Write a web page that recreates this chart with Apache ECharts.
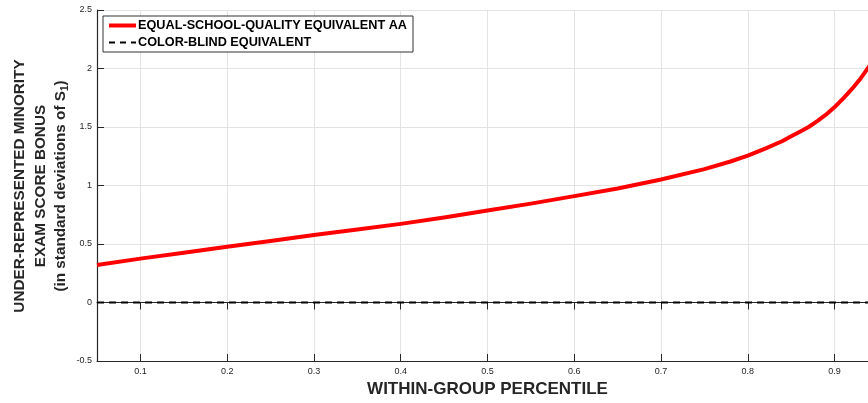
<!DOCTYPE html>
<html>
<head>
<meta charset="utf-8">
<script src="https://cdn.jsdelivr.net/npm/echarts@6/dist/echarts.min.js"></script>
<style>
  html, body { margin: 0; padding: 0; background: #fff; }
  #chart { width: 868px; height: 403px; }
</style>
</head>
<body>
<div id="chart"></div>
<script>
// Within-group percentile (x) and the exam score bonus (y, in SD of S1)
var percentile = [0.05, 0.1, 0.15, 0.2, 0.25, 0.3, 0.35, 0.4, 0.45, 0.5, 0.55, 0.6, 0.65, 0.7,
                  0.75, 0.78, 0.8, 0.82, 0.84, 0.85, 0.86, 0.87, 0.88, 0.89, 0.9, 0.91, 0.92, 0.93, 0.94, 0.95];
var equalSchoolAA = [0.32, 0.375, 0.425, 0.476, 0.526, 0.577, 0.624, 0.672, 0.727, 0.786, 0.845, 0.909, 0.975, 1.051,
                     1.14, 1.205, 1.255, 1.315, 1.38, 1.42, 1.46, 1.5, 1.55, 1.605, 1.67, 1.745, 1.825, 1.915, 2.02, 2.17];
var colorBlindX = [0.05, 0.95];
var colorBlind = [0, 0];

var xTicks = [0.1, 0.2, 0.3, 0.4, 0.5, 0.6, 0.7, 0.8, 0.9];
var seriesNames = ['EQUAL-SCHOOL-QUALITY EQUIVALENT AA', 'COLOR-BLIND EQUIVALENT'];

var axisColor = '#262626';
var gridColor = '#e3e3e3';
var font = 'Liberation Sans, Arial, Helvetica, sans-serif';

function pairs(xs, ys) {
  return xs.map(function (x, i) { return [x, ys[i]]; });
}

var chart = echarts.init(document.getElementById('chart'));
chart.setOption({
  animation: false,
  backgroundColor: '#fff',
  grid: { left: 97, top: 10, bottom: 42, right: -10, containLabel: false, outerBoundsMode: 'none' },
  legend: {
    orient: 'vertical',
    left: 103, top: 16,
    padding: [3, 6, 3, 4],
    itemGap: 4,
    itemWidth: 27, itemHeight: 14,
    backgroundColor: '#fff',
    borderColor: '#333',
    borderWidth: 1,
    borderRadius: 0,
    // line-only keys: hide the marker drawn on top of the line sample
    itemStyle: { color: 'rgba(0,0,0,0)', borderWidth: 0, opacity: 0 },
    textStyle: { fontFamily: font, fontWeight: 'bold', fontSize: 12.7, color: '#000', padding: [0, 0, 0, -3] },
    data: [
      { name: seriesNames[0], lineStyle: { width: 4, color: '#ff0000' } },
      { name: seriesNames[1], lineStyle: { width: 2, color: '#000', type: [6, 5] } }
    ]
  },
  xAxis: [{
    type: 'value',
    min: 0.05, max: 0.95,
    axisLine: { show: true, onZero: false, lineStyle: { color: axisColor, width: 1.2 } },
    axisTick: { show: true, inside: true, length: 7, customValues: xTicks, lineStyle: { color: axisColor } },
    axisLabel: { customValues: xTicks, margin: 6, color: axisColor, fontSize: 9, fontFamily: font },
    splitLine: { show: true, lineStyle: { color: gridColor, width: 1 } },
    name: 'WITHIN-GROUP PERCENTILE',
    nameLocation: 'middle',
    nameGap: 20,
    nameTextStyle: { fontFamily: font, fontWeight: 'bold', fontSize: 17, color: axisColor }
  }, {
    type: 'value',
    position: 'top',
    min: 0.05, max: 0.95,
    axisLine: { show: true, lineStyle: { color: axisColor, width: 1.2 } },
    axisTick: { show: true, inside: true, length: 7, customValues: xTicks, lineStyle: { color: axisColor } },
    axisLabel: { show: false },
    splitLine: { show: false }
  }],
  yAxis: {
    type: 'value',
    min: -0.5, max: 2.5, interval: 0.5,
    axisLine: { show: true, onZero: false, lineStyle: { color: axisColor, width: 1.2 } },
    axisTick: { show: true, inside: true, length: 7, lineStyle: { color: axisColor } },
    axisLabel: { margin: 5, color: axisColor, fontSize: 9, fontFamily: font },
    splitLine: { show: true, lineStyle: { color: gridColor, width: 1 } }
  },
  graphic: [{
    type: 'group',
    x: 41, y: 186,
    rotation: Math.PI / 2,
    children: [{
      type: 'text',
      x: 0, y: -21,
      style: {
        text: 'UNDER-REPRESENTED MINORITY',
        font: 'bold 15.3px ' + font,
        fill: axisColor, align: 'center', verticalAlign: 'middle'
      }
    }, {
      type: 'text',
      x: 0, y: 0,
      style: {
        text: 'EXAM SCORE BONUS',
        font: 'bold 15.3px ' + font,
        fill: axisColor, align: 'center', verticalAlign: 'middle'
      }
    }, {
      type: 'text',
      x: 0, y: 20,
      style: {
        text: '(in standard deviations of S{sub|1})',
        font: 'bold 15.3px ' + font,
        fill: axisColor, align: 'center', verticalAlign: 'middle',
        rich: {
          sub: { font: 'bold 10px ' + font, fill: axisColor, verticalAlign: 'bottom', padding: [8, 0, 0, 0] }
        }
      }
    }]
  }],
  series: [{
    name: seriesNames[0],
    type: 'line',
    smooth: false,
    showSymbol: false,
    symbol: 'none',
    data: pairs(percentile, equalSchoolAA),
    lineStyle: { color: '#ff0000', width: 4, join: 'round' },
    itemStyle: { color: '#ff0000' },
    z: 3
  }, {
    name: seriesNames[1],
    type: 'line',
    showSymbol: false,
    symbol: 'none',
    data: pairs(colorBlindX, colorBlind),
    lineStyle: { color: '#000', width: 2, type: [7, 5] },
    itemStyle: { color: '#000' },
    z: 2
  }]
});
</script>
</body>
</html>
